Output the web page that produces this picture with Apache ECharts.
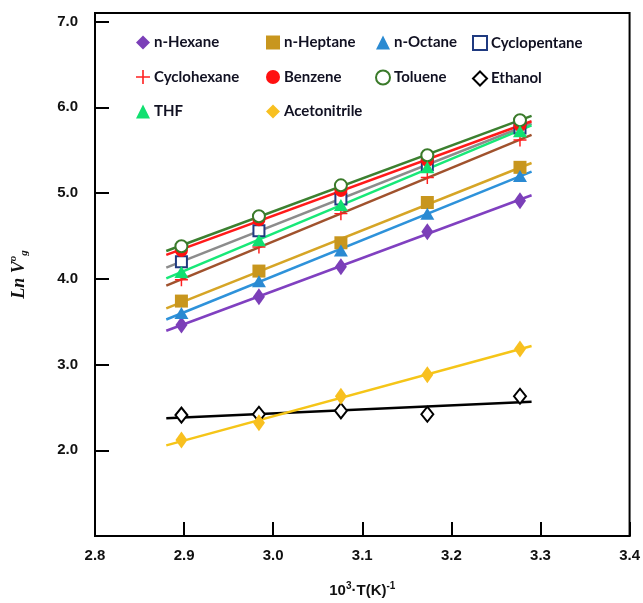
<!DOCTYPE html>
<html>
<head>
<meta charset="utf-8">
<script src="https://cdn.jsdelivr.net/npm/echarts@6/dist/echarts.min.js"></script>
<style>html,body{margin:0;padding:0;background:#fff;}#c{width:643px;height:603px;}</style>
</head>
<body>
<div id="c"></div>
<script>
// x: 10^3/T (K^-1)
var invT = [2.897, 2.984, 3.076, 3.173, 3.277];
var nHexane      = [3.46, 3.79, 4.14, 4.55, 4.91];
var nHeptane     = [3.74, 4.09, 4.42, 4.89, 5.30];
var nOctane      = [3.60, 3.97, 4.33, 4.76, 5.20];
var cyclopentane = [4.20, 4.56, 4.93, 5.33, 5.76];
var cyclohexane  = [3.99, 4.37, 4.76, 5.18, 5.62];
var benzene      = [4.33, 4.69, 5.03, 5.38, 5.79];
var toluene      = [4.38, 4.73, 5.09, 5.44, 5.85];
var ethanol      = [2.41, 2.42, 2.46, 2.42, 2.63];
var thf          = [4.08, 4.45, 4.86, 5.30, 5.72];
var acetonitrile = [2.12, 2.32, 2.63, 2.88, 3.18];
var xTicks = [2.8, 2.9, 3.0, 3.1, 3.2, 3.3, 3.4];
var yTicks = [2.0, 3.0, 4.0, 5.0, 6.0, 7.0];
var fitRange = [2.88, 3.29];

var defs = [
  {name:'n-Hexane', data:nHexane, symbol:'diamond', size:[12,17], fill:'#7B3FB8', border:'#7B3FB8', line:'#8040C0'},
  {name:'n-Heptane', data:nHeptane, symbol:'rect', size:13, fill:'#C8961E', border:'#C8961E', line:'#D6A526'},
  {name:'n-Octane', data:nOctane, symbol:'triangle', size:[14,12], fill:'#2A8AD2', border:'#2A8AD2', line:'#2E92DA'},
  {name:'Cyclopentane', data:cyclopentane, symbol:'rect', size:11, fill:'#ffffff', border:'#1F3A80', bw:2, line:'#8C8C8C'},
  {name:'Cyclohexane', data:cyclohexane, symbol:'path://M6.2,0H7.8V6.2H14V7.8H7.8V14H6.2V7.8H0V6.2H6.2Z', size:13, fill:'#FF2020', border:'#FF2020', line:'#A0522D'},
  {name:'Benzene', data:benzene, symbol:'circle', size:13, fill:'#FF1010', border:'#FF1010', line:'#FF1A1A'},
  {name:'Toluene', data:toluene, symbol:'circle', size:12, fill:'#ffffff', border:'#3A7A2A', bw:2, line:'#3C8030'},
  {name:'Ethanol', data:ethanol, symbol:'diamond', size:[12,15], fill:'#ffffff', border:'#000000', bw:2, line:'#000000'},
  {name:'THF', data:thf, symbol:'triangle', size:[14,12], fill:'#10E070', border:'#10E070', line:'#18E878'},
  {name:'Acetonitrile', data:acetonitrile, symbol:'diamond', size:[12,17], fill:'#F8C020', border:'#F8C020', line:'#F5C518'}
];

function fit(xs, ys) {
  var n = xs.length, sx=0, sy=0, sxx=0, sxy=0;
  for (var i=0;i<n;i++){sx+=xs[i];sy+=ys[i];sxx+=xs[i]*xs[i];sxy+=xs[i]*ys[i];}
  var b = (n*sxy - sx*sy)/(n*sxx - sx*sx);
  var a = (sy - b*sx)/n;
  return fitRange.map(function(x){return [x, a + b*x];});
}

var series = [];
defs.forEach(function(d){
  series.push({
    name: d.name + ' fit', type:'line', data: fit(invT, d.data), showSymbol:false, symbol:'none',
    lineStyle:{color:d.line, width:2.5}, z:2, silent:true, animation:false
  });
});
defs.forEach(function(d){
  series.push({
    name: d.name, type:'scatter', symbol:d.symbol, symbolSize:d.size,
    data: invT.map(function(x,i){return [x, d.data[i]];}),
    itemStyle:{color:d.fill, borderColor:d.border, borderWidth:d.bw||0, opacity:1},
    z:3, animation:false
  });
});

function legendCol(names, left) {
  return {
    orient:'vertical', left:left, top:35, padding:0, itemGap:19.5,
    itemWidth:14, itemHeight:14, itemStyle:{},
    textStyle:{fontFamily:'Lato', fontWeight:'bold', fontSize:15, color:'#111122', padding:[0,0,0,-1]},
    data: names
  };
}

var chart = echarts.init(document.getElementById('c'), null, {renderer:'canvas'});
chart.setOption({
  backgroundColor:'#ffffff',
  animation:false,
  grid:{left:95, right:12, top:13, bottom:64, show:true, borderColor:'#000', borderWidth:2, backgroundColor:'transparent'},
  legend:[
    legendCol(['n-Hexane','Cyclohexane','THF'], 136),
    legendCol(['n-Heptane','Benzene','Acetonitrile'], 266),
    legendCol(['n-Octane','Toluene'], 375),
    legendCol(['Cyclopentane','Ethanol'], 472)
  ],
  xAxis:{
    type:'value', min:xTicks[0], max:xTicks[xTicks.length-1], interval:0.1,
    axisLine:{lineStyle:{color:'#000', width:2}},
    axisTick:{inside:true, length:14, lineStyle:{color:'#000', width:2}},
    splitLine:{show:false},
    axisLabel:{margin:12, color:'#111', fontFamily:'Liberation Sans', fontWeight:'bold', fontSize:15,
      formatter:function(v){return v.toFixed(1);}},
    name:'{b|10}{s|3}{b|·T(K)}{s|-1}', nameLocation:'middle', nameGap:45,
    nameTextStyle:{rich:{
      b:{fontFamily:'Liberation Sans', fontWeight:'bold', fontSize:15, color:'#111'},
      s:{fontFamily:'Liberation Sans', fontWeight:'bold', fontSize:10, color:'#111', padding:[0,0,9,0]}
    }}
  },
  yAxis:{
    type:'value', min:1, max:7.1, interval:1,
    axisLine:{lineStyle:{color:'#000', width:2}},
    axisTick:{inside:true, length:14, lineStyle:{color:'#000', width:2}},
    splitLine:{show:false},
    axisLabel:{margin:17, color:'#111', fontFamily:'Liberation Sans', fontWeight:'bold', fontSize:15,
      formatter:function(v){return (v>1.5 && v<7.05) ? v.toFixed(1) : '';}},
    name:'{b|Ln V}{s|o}{g|g}', nameLocation:'middle', nameGap:64, nameRotate:90,
    nameTextStyle:{rich:{
      b:{fontFamily:'Liberation Serif', fontStyle:'italic', fontWeight:'bold', fontSize:18, color:'#111'},
      s:{fontFamily:'Liberation Serif', fontStyle:'italic', fontWeight:'bold', fontSize:11, color:'#111', padding:[0,0,12,0]},
      g:{fontFamily:'Liberation Serif', fontStyle:'italic', fontWeight:'bold', fontSize:11, color:'#111', padding:[10,0,0,0]}
    }}
  },
  series: series
});
</script>
</body>
</html>
